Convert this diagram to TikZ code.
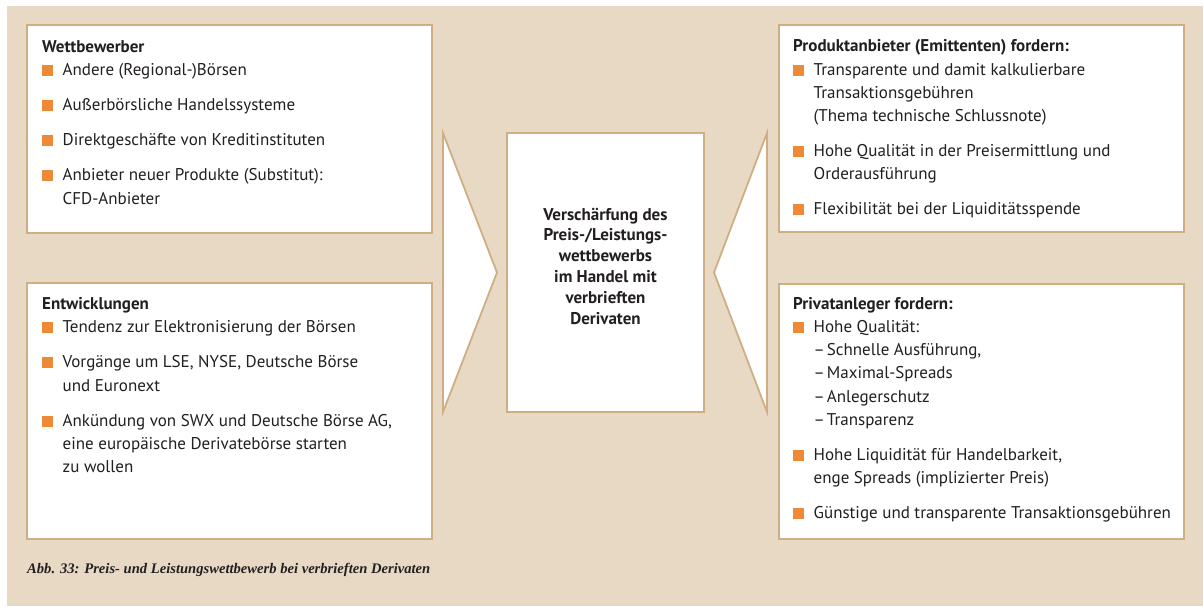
\documentclass[tikz,border=0pt]{standalone}
\usepackage{fontspec}
\setmainfont{PT Sans}
\newfontfamily\capfont{Liberation Serif}
\usetikzlibrary{calc}
\definecolor{bgbeige}{HTML}{E8D9C5}
\definecolor{tanline}{HTML}{CFAE84}
\definecolor{bulor}{HTML}{EE8A36}
\definecolor{txt}{HTML}{231F20}
\newcommand{\bsq}{\makebox[20.5pt][l]{\raisebox{-0.5pt}{\textcolor{bulor}{\rule{11pt}{11pt}}}}}
\newcommand{\firstitem}{\par\noindent\bsq}
\newcommand{\nextitem}{\par\vspace{11.7pt}\noindent\bsq}
\newcommand{\cont}{\\\hspace*{20.5pt}}
\newcommand{\bodyfont}{\fontsize{17}{23.3}\selectfont}
\begin{document}
\begin{tikzpicture}[x=1pt,y=-1pt,
  panel/.style={draw=tanline, line width=1.8pt, fill=white, inner sep=0pt, outer sep=0pt, anchor=north west},
  arrowtri/.style={draw=tanline, line width=1.8pt, fill=white, line join=miter},
  boxtext/.style={anchor=base west, inner sep=0pt, text=txt},
  captext/.style={anchor=base west, inner sep=0pt, text=txt}]
\useasboundingbox (0,0) rectangle (1203,606);
\fill[bgbeige] (7,6) rectangle (1203,606);
% panels
\node[panel, minimum width=405pt, minimum height=208pt] (wett) at (27,25) {};
\node[panel, minimum width=405pt, minimum height=256pt] (entw) at (27,283) {};
\node[panel, minimum width=197pt, minimum height=279pt] (mid) at (507,133) {};
\node[panel, minimum width=405pt, minimum height=207pt] (prod) at (779,25) {};
\node[panel, minimum width=405pt, minimum height=255pt] (priv) at (779,284) {};
% triangles
\coordinate (lt1) at ($(mid.north west)+(-64,0)$);
\coordinate (lt2) at ($(mid.south west)+(-64,0)$);
\coordinate (ltip) at ($(mid.west)+(-10,0)$);
\coordinate (rt1) at ($(mid.north east)+(63,0)$);
\coordinate (rt2) at ($(mid.south east)+(63,0)$);
\coordinate (rtip) at ($(mid.east)+(10,0)$);
\draw[arrowtri] (lt1) -- (lt2) -- (ltip) -- cycle;
\draw[arrowtri] (rt1) -- (rt2) -- (rtip) -- cycle;
% texts
\node[boxtext] (wetttext) at (42,52.5) {\parbox[t]{500pt}{\bodyfont\raggedright
{\bfseries Wettbewerber}
\firstitem Andere (Regional-)Börsen
\nextitem Außerbörsliche Handelssysteme
\nextitem Direktgeschäfte von Kreditinstituten
\nextitem Anbieter neuer Produkte (Substitut):\cont CFD-Anbieter}};
\node[boxtext] (entwtext) at (42,309.5) {\parbox[t]{500pt}{\bodyfont\raggedright
{\bfseries Entwicklungen}
\firstitem Tendenz zur Elektronisierung der Börsen
\nextitem Vorgänge um LSE, NYSE, Deutsche Börse\cont und Euronext
\nextitem Ankündung von SWX und Deutsche Börse AG,\cont eine europäische Derivatebörse starten\cont zu wollen}};
\node[boxtext] (prodtext) at (793,51.7) {\parbox[t]{500pt}{\bodyfont\raggedright
{\bfseries Produktanbieter (Emittenten) fordern:}
\firstitem Transparente und damit kalkulierbare\cont Transaktionsgebühren\cont (Thema technische Schlussnote)
\nextitem Hohe Qualität in der Preisermittlung und\cont Orderausführung
\nextitem Flexibilität bei der Liquiditätsspende}};
\node[boxtext] (privtext) at (793,309) {\parbox[t]{500pt}{\bodyfont\raggedright
{\bfseries Privatanleger fordern:}
\firstitem Hohe Qualität:\cont –\hspace{2pt}Schnelle Ausführung,\cont –\hspace{2pt}Maximal-Spreads\cont –\hspace{2pt}Anlegerschutz\cont –\hspace{2pt}Transparenz
\nextitem Hohe Liquidität für Handelbarkeit,\cont enge Spreads (implizierter Preis)
\nextitem Günstige und transparente Transaktionsgebühren}};
\node[anchor=base, inner sep=0pt, text=txt] (midtext) at ($(mid.north)+(0,87)$) {\parbox[t]{196pt}{\fontsize{17}{20.8}\selectfont\centering\bfseries
Verschärfung des\\Preis-/Leistungs-\\wettbewerbs\\im Handel mit\\verbrieften\\Derivaten}};
\node[captext] (caption) at (27,573) {\capfont\bfseries\itshape\fontsize{14.6}{17}\selectfont Abb. 33: Preis- und Leistungswettbewerb bei verbrieften Derivaten};
\end{tikzpicture}
\end{document}
